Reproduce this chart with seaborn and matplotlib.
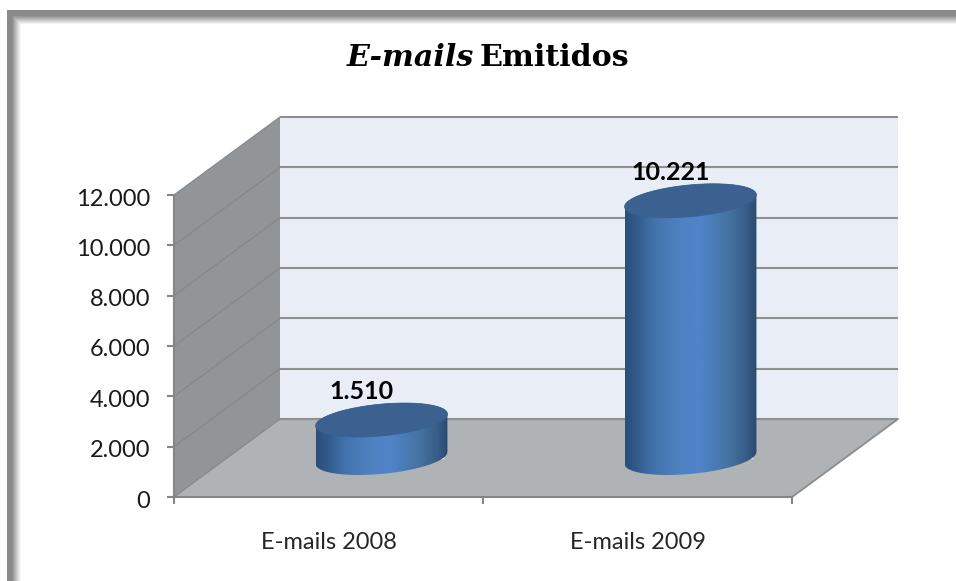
import numpy as np
import matplotlib
matplotlib.use("Agg")
import matplotlib.pyplot as plt
from matplotlib.colors import LinearSegmentedColormap
from matplotlib.patches import Polygon
from matplotlib.path import Path
from matplotlib.transforms import Affine2D, IdentityTransform
import seaborn as sns

categories = ["E-mails 2008", "E-mails 2009"]
values = [1510, 10221]
y_ticks = [0, 2000, 4000, 6000, 8000, 10000, 12000]
y_labels = ["0", "2.000", "4.000", "6.000", "8.000", "10.000", "12.000"]
value_labels = ["1.510", "10.221"]

sns.set_theme(style="white")
plt.rcParams["font.family"] = ["Lato", "DejaVu Sans"]

W, H = 956, 581
DX, DY = 106, 78          # oblique depth of the box, pixels
fig = plt.figure(figsize=(W / 100, H / 100), dpi=100, facecolor="white")

# picture frame with soft shadow
bg = fig.add_axes([0, 0, 1, 1], zorder=0)
yy, xx = np.mgrid[0:H, 0:W]
d = np.minimum(xx - 6.5, yy - 10.0)
shade = np.clip((d - 5.0) / 9.0, 0, 1)
frame = 0.54 + (1 - 0.54) * shade
frame[d < 0] = 1.0
bg.imshow(frame, cmap="gray", vmin=0, vmax=1, aspect="auto", interpolation="bilinear")
bg.axis("off")

ax = fig.add_axes([174 / W, 1 - 497 / H, (792 - 174) / W, (497 - 195) / H], zorder=1)
ax.patch.set_visible(False)

sns.barplot(x=categories, y=values, width=0.4, color="#3f6fa8", saturation=1, ax=ax, zorder=3)
bars = list(ax.patches)
ax.set_xlim(-0.5, 1.5)
ax.set_ylim(0, 12000)
ax.set_autoscale_on(False)


def depth(f):
    return ax.transData + Affine2D().translate(DX * f, DY * f)


back, mid, front = depth(1), depth(0.5), ax.transData
x0, x1 = ax.get_xlim()
ymax = y_ticks[-1]


def project(x, y, f):
    return depth(f).transform((x, y))


def add_poly(pts, color, z):
    ax.add_patch(Polygon(pts, closed=True, transform=IdentityTransform(), facecolor=color,
                         edgecolor="none", zorder=z, clip_on=False))


add_poly([project(x0, 0, 1), project(x1, 0, 1), project(x1, ymax, 1), project(x0, ymax, 1)], "#e8edf6", 0.5)
add_poly([project(x0, 0, 0), project(x0, ymax, 0), project(x0, ymax, 1), project(x0, 0, 1)], "#929598", 0.5)
add_poly([project(x0, 0, 0), project(x1, 0, 0), project(x1, 0, 1), project(x0, 0, 1)], "#b0b3b6", 0.5)

grid_col = "#8f8f8f"
for t in y_ticks:
    ax.plot([x0, x1], [t, t], transform=back, color=grid_col, lw=1.5, clip_on=False, zorder=1,
            solid_capstyle="butt")
    a, b = project(x0, t, 0), project(x0, t, 1)
    ax.plot([a[0], b[0]], [a[1], b[1]], transform=IdentityTransform(), color="#85888b", lw=0.9,
            clip_on=False, zorder=1)
a, b = project(x1, 0, 0), project(x1, 0, 1)
ax.plot([a[0], b[0]], [a[1], b[1]], transform=IdentityTransform(), color=grid_col, lw=1.4,
        clip_on=False, zorder=1)

# cylinders: each seaborn bar is moved into the middle of the box depth and shaded
cyl_cmap = LinearSegmentedColormap.from_list(
    "cyl", [(0, "#2b4d78"), (0.08, "#31598a"), (0.22, "#4273ad"), (0.42, "#4f82c2"),
            (0.58, "#4f83c8"), (0.8, "#44729f"), (0.93, "#365b87"), (1, "#2b4a70")])
EX, EY = 23, 17   # tilt of the ellipse's depth axis, pixels
tr = np.arctan2(EX, bars[0].get_width() * 309 / 2)

for bar, label in zip(bars, value_labels):
    bar.set_transform(mid)
    bar.set_clip_on(False)
    xa, y0 = mid.transform((bar.get_x(), 0))
    xb, y1 = mid.transform((bar.get_x() + bar.get_width(), bar.get_height()))
    cx, rx = (xa + xb) / 2, (xb - xa) / 2

    def ell(t, yc):
        return np.column_stack([cx + rx * np.cos(t) + EX * np.sin(t), yc + EY * np.sin(t)])

    lower = ell(np.linspace(tr + np.pi, tr + 2 * np.pi, 80), y0)
    upper = ell(np.linspace(tr, tr + np.pi, 80), y1)
    body = np.vstack([lower, upper, lower[:1]])
    xl, xr = body[:, 0].min(), body[:, 0].max()
    im = ax.imshow(np.linspace(0, 1, 200)[None, :], cmap=cyl_cmap, aspect="auto",
                   extent=(xl, xr, y0 - 30, y1 + 30), transform=IdentityTransform(), zorder=3.1)
    im.set_clip_box(fig.bbox)
    im.set_clip_path(Path(body), IdentityTransform())
    ax.add_patch(Polygon(ell(np.linspace(0, 2 * np.pi, 160), y1), closed=True,
                         transform=IdentityTransform(), facecolor="#3a618f", edgecolor="#3a618f",
                         lw=0.5, zorder=3.2, clip_on=False))
    ax.annotate(label, xy=(cx, y1), xycoords=IdentityTransform(), xytext=(-20 * 0.72, 28 * 0.72),
                textcoords="offset points", ha="center", va="center", fontsize=18,
                fontweight="bold", color="black", zorder=4, annotation_clip=False)

ax.set_xlim(-0.5, 1.5)
ax.set_ylim(0, 12000)

# axes, ticks and labels
sns.despine(ax=ax, top=True, right=True)
for s in ("left", "bottom"):
    ax.spines[s].set_color("#868686")
    ax.spines[s].set_linewidth(1.5)
    ax.spines[s].set_zorder(2)
ax.set_yticks(y_ticks, y_labels)
ax.set_xticks([-0.5, 0.5, 1.5], ["", "", ""])
ax.set_xticks([0, 1], categories, minor=True)
ax.tick_params(axis="y", which="major", left=True, length=5, width=1.5, color="#868686", pad=12,
               labelsize=17, labelcolor="#1a1a1a")
ax.tick_params(axis="x", which="major", bottom=True, length=5, width=1.5, color="#868686")
ax.tick_params(axis="x", which="minor", bottom=False, length=0, pad=25, labelsize=17, labelcolor="#262626")
ax.set_xlabel("")
ax.set_ylabel("")
for lab in ax.get_yticklabels():
    lab.set_transform(lab.get_transform() + Affine2D().translate(0, -2))

# title: one italic word followed by an upright part
t1 = fig.text(347 / W, 1 - 58 / H, "E-mails", family="DejaVu Serif", style="italic",
              fontweight="bold", fontsize=21.7, color="black", ha="left", va="center")
t2 = fig.text(480 / W, 1 - 58 / H, "Emitidos", family="DejaVu Serif",
              fontweight="bold", fontsize=21.7, color="black", ha="left", va="center")

fig.savefig("out.png", dpi=100, facecolor="white")
